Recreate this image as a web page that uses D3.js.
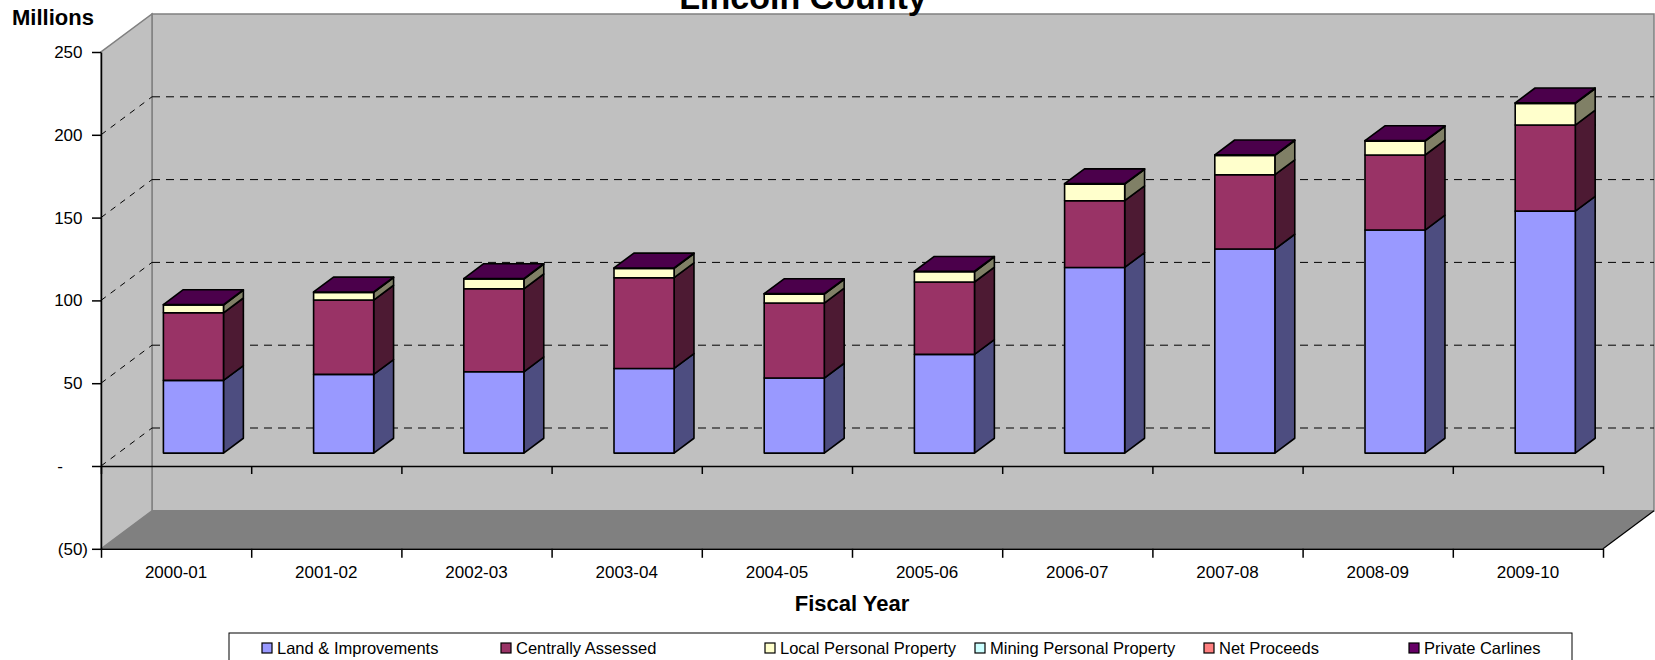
<!DOCTYPE html>
<html>
<head>
<meta charset="utf-8">
<script src="https://cdn.jsdelivr.net/npm/d3@7"></script>
<style>
  body { margin: 0; background: #fff; }
  text { font-family: "Liberation Sans", Arial, sans-serif; }
</style>
</head>
<body>
<div id="chart"></div>
<script>
const categories = ["2000-01", "2001-02", "2002-03", "2003-04", "2004-05",
  "2005-06", "2006-07", "2007-08", "2008-09", "2009-10"]

// millions
const landImprovements = [43.9, 47.5, 49.1, 51.1, 45.3, 59.6, 112.1, 123.2, 134.7, 146.1]
const centrallyAssessed = [40.8, 44.9, 50.1, 54.8, 45.3, 43.7, 40.3, 44.9, 45.3, 52.0]
const localPersonal = [4.7, 4.6, 5.9, 5.6, 5.4, 6.2, 10.0, 11.7, 8.4, 13.1]
const miningPersonal = [0, 0, 0, 0, 0, 0, 0, 0, 0, 0]
const netProceeds = [0, 0, 0, 0, 0, 0, 0, 0, 0, 0]
const privateCarlines = [0.3, 0.3, 0.3, 0.3, 0.3, 0.3, 0.3, 0.3, 0.3, 0.3]

const seriesNames = ["Land & Improvements", "Centrally Assessed", "Local Personal Property",
  "Mining Personal Property", "Net Proceeds", "Private Carlines"]
const yTicks = [-50, 0, 50, 100, 150, 200, 250]

const frontColors = ["#9999FF", "#993366", "#FFFFCC", "#CCFFFF", "#FF8080", "#660066"]
const sideColors = ["#4D4D80", "#4D1A33", "#808066", "#668080", "#804040", "#330033"]
const topColors = ["#7373BF", "#73264D", "#BFBF99", "#99BFBF", "#BF6060", "#4B004B"]
const legendX = [262, 501, 765, 975, 1204, 1409]

const width = 1655
const height = 660
const plot = { left: 101, right: 1603, top: 52, bottom: 548.8 }
const depth = { dx: 51, dy: -38 }
const barDepth = [0.34, 0.73]

const keys = ["land", "central", "local", "mining", "net", "carlines"]
const rows = categories.map((c, i) => ({
  cat: c,
  land: landImprovements[i],
  central: centrallyAssessed[i],
  local: localPersonal[i],
  mining: miningPersonal[i],
  net: netProceeds[i],
  carlines: privateCarlines[i]
}))
const stacked = d3.stack().keys(keys)(rows)

const svg = d3.select("#chart").append("svg")
  .attr("width", width)
  .attr("height", height)

svg.append("rect").attr("width", width).attr("height", height).attr("fill", "#fff")

const yScale = d3.scaleLinear().domain([-50, 250]).range([plot.bottom, plot.top])
const xScale = d3.scaleBand().domain(categories)
  .range([plot.left, plot.right])
  .paddingInner(0.6)
  .paddingOuter(0.3)
const xEdges = d3.scaleLinear().domain([0, categories.length]).range([plot.left, plot.right])

const P = (x, y, f) => [x + f * depth.dx, y + f * depth.dy]
const pts = arr => arr.map(p => p.join(",")).join(" ")

// walls and floor
const yTop = yScale(250), yBot = yScale(-50)
svg.append("polygon")
  .attr("points", pts([P(plot.left, yBot, 1), P(plot.left, yTop, 1), P(plot.right, yTop, 1), P(plot.right, yBot, 1)]))
  .attr("fill", "#C0C0C0")
  .attr("stroke", "#808080")
  .attr("stroke-width", 1.5)
svg.append("polygon")
  .attr("points", pts([[plot.left, yBot], [plot.left, yTop], P(plot.left, yTop, 1), P(plot.left, yBot, 1)]))
  .attr("fill", "#C0C0C0")
  .attr("stroke", "#808080")
  .attr("stroke-width", 1.5)
svg.append("polygon")
  .attr("points", pts([[plot.left, yBot], P(plot.left, yBot, 1), P(plot.right, yBot, 1), [plot.right, yBot]]))
  .attr("fill", "#808080")
svg.append("line")
  .attr("x1", plot.right).attr("y1", yBot)
  .attr("x2", P(plot.right, yBot, 1)[0]).attr("y2", P(plot.right, yBot, 1)[1])
  .attr("stroke", "#000")
  .attr("stroke-width", 1.2)

// gridlines
const grid = svg.append("g").attr("stroke", "#000").attr("stroke-width", 1).attr("fill", "none")
yTicks.filter(v => v >= 0 && v < 250).forEach(v => {
  const a = [plot.left, yScale(v)]
  const b = P(plot.left, yScale(v), 1)
  const c = P(plot.right, yScale(v), 1)
  grid.append("line").attr("x1", a[0]).attr("y1", a[1]).attr("x2", b[0]).attr("y2", b[1])
    .attr("stroke-dasharray", "6,6")
  grid.append("line").attr("x1", b[0]).attr("y1", b[1]).attr("x2", c[0]).attr("y2", c[1])
    .attr("stroke-dasharray", "8,6")
})

// zero axis on the front plane
svg.append("g")
  .attr("transform", `translate(0, ${yScale(0)})`)
  .call(d3.axisBottom(xEdges).tickValues(d3.range(categories.length + 1)).tickSize(8).tickSizeOuter(0).tickFormat(""))
  .call(g => g.selectAll("path, line").attr("stroke-width", 1.5))

// bars
const [f0, f1] = barDepth
const bw = xScale.bandwidth()
categories.forEach((cat, i) => {
  const g = svg.append("g")
    .attr("stroke", "#000")
    .attr("stroke-width", 1.6)
    .attr("stroke-linejoin", "round")
  const x0 = xScale(cat), x1 = x0 + bw
  let topSeg = null
  stacked.forEach((s, k) => {
    const [v0, v1] = s[i]
    if (v1 - v0 <= 0) return
    const ya = yScale(v0), yb = yScale(v1)
    g.append("polygon")
      .attr("points", pts([P(x1, ya, f0), P(x1, ya, f1), P(x1, yb, f1), P(x1, yb, f0)]))
      .attr("fill", sideColors[k])
    g.append("polygon")
      .attr("points", pts([P(x0, ya, f0), P(x1, ya, f0), P(x1, yb, f0), P(x0, yb, f0)]))
      .attr("fill", frontColors[k])
    topSeg = { k, y: yb }
  })
  if (topSeg) {
    g.append("polygon")
      .attr("points", pts([P(x0, topSeg.y, f0), P(x0, topSeg.y, f1), P(x1, topSeg.y, f1), P(x1, topSeg.y, f0)]))
      .attr("fill", topColors[topSeg.k])
  }
})

// y axis
const fmt = v => v < 0 ? `(${-v})` : v === 0 ? "-" : `${v}`
svg.append("g")
  .attr("transform", `translate(${plot.left}, 0)`)
  .call(d3.axisLeft(yScale).tickValues(yTicks).tickSize(9).tickSizeOuter(0).tickFormat(fmt))
  .call(g => g.selectAll("path, line").attr("stroke-width", 1.5))
  .call(g => g.selectAll("text")
    .attr("x", d => d < 0 ? -13 : d === 0 ? -38 : -18.5)
    .attr("font-size", 17)
    .attr("font-family", "Liberation Sans, Arial, sans-serif")
    .attr("fill", "#000"))

// floor front axis
svg.append("g")
  .attr("transform", `translate(0, ${yScale(-50)})`)
  .call(d3.axisBottom(xEdges).tickValues(d3.range(categories.length + 1)).tickSize(9).tickSizeOuter(0).tickFormat(""))
  .call(g => g.selectAll("path, line").attr("stroke-width", 1.5))

svg.append("g").selectAll("text")
  .data(categories)
  .join("text")
  .attr("x", d => xScale(d) + bw / 2)
  .attr("y", 578)
  .attr("text-anchor", "middle")
  .attr("font-size", 17)
  .text(d => d)

// titles
svg.append("text")
  .attr("x", 803).attr("y", 9)
  .attr("text-anchor", "middle")
  .attr("font-size", 34).attr("font-weight", "bold")
  .text("Lincoln County")
svg.append("text")
  .attr("x", 12).attr("y", 25)
  .attr("font-size", 22).attr("font-weight", "bold")
  .text("Millions")
svg.append("text")
  .attr("x", (plot.left + plot.right) / 2).attr("y", 611)
  .attr("text-anchor", "middle")
  .attr("font-size", 22).attr("font-weight", "bold")
  .text("Fiscal Year")

// legend
svg.append("rect")
  .attr("x", 229).attr("y", 633)
  .attr("width", 1343).attr("height", 40)
  .attr("fill", "#fff").attr("stroke", "#000").attr("stroke-width", 1)
const legend = svg.append("g").selectAll("g")
  .data(seriesNames)
  .join("g")
  .attr("transform", (d, i) => `translate(${legendX[i]}, 643)`)
legend.append("rect")
  .attr("width", 10).attr("height", 10)
  .attr("fill", (d, i) => frontColors[i])
  .attr("stroke", "#000").attr("stroke-width", 1.2)
legend.append("text")
  .attr("x", 15).attr("y", 11)
  .attr("font-size", 16.5)
  .text(d => d)
</script>
</body>
</html>
